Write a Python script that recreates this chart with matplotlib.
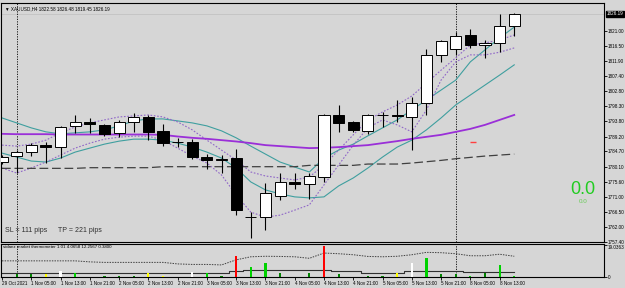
import numpy as np
import matplotlib
matplotlib.use("Agg")
from matplotlib import pyplot as plt
from matplotlib import font_manager
from matplotlib.transforms import blended_transform_factory

# XAUUSD H4 bars, 29 Oct 2021 20:00 .. 8 Nov 2021 17:00
opens = [1781.6, 1783.3, 1784.4, 1786.6, 1785.9, 1792.4, 1793.6, 1792.7, 1790.2, 1793.7,
         1795.2, 1790.9, 1787.6, 1787.6, 1783.1, 1782.2, 1782.6, 1764.8, 1764.9, 1771.4,
         1775.5, 1774.8, 1777.1, 1795.7, 1793.5, 1790.9, 1795.6, 1795.8, 1795.2, 1799.3,
         1813.8, 1815.6, 1819.8, 1816.8, 1817.3, 1822.58]
highs = [1783.5, 1785.1, 1787.3, 1787.6, 1792.4, 1795.7, 1794.7, 1793.0, 1794.2, 1796.2,
         1795.7, 1793.0, 1788.7, 1788.4, 1783.9, 1783.6, 1785.3, 1766.5, 1775.1, 1778.1,
         1778.1, 1778.2, 1796.0, 1798.7, 1794.0, 1796.0, 1796.7, 1800.2, 1801.1, 1815.5,
         1818.3, 1820.8, 1821.5, 1818.3, 1826.1, 1826.48]
lows = [1781.0, 1778.2, 1783.3, 1781.1, 1782.6, 1790.2, 1790.2, 1789.4, 1789.2, 1790.6,
        1788.1, 1786.3, 1786.1, 1782.3, 1779.3, 1778.1, 1765.5, 1758.5, 1761.0, 1770.0,
        1773.3, 1770.3, 1775.6, 1790.7, 1790.7, 1789.9, 1792.1, 1793.7, 1785.1, 1795.7,
        1811.6, 1813.8, 1815.8, 1812.9, 1814.8, 1819.45]
closes = [1783.1, 1784.4, 1786.6, 1785.9, 1792.2, 1793.5, 1793.1, 1790.0, 1793.7, 1795.0,
          1790.6, 1787.3, 1787.5, 1783.1, 1782.1, 1782.3, 1767.1, 1764.9, 1772.1, 1775.6,
          1774.9, 1777.3, 1795.7, 1793.2, 1791.2, 1795.7, 1795.8, 1795.3, 1799.2, 1813.8,
          1818.1, 1819.5, 1816.8, 1817.5, 1822.5, 1826.19]

ma_slow = [1790.0, 1789.9, 1789.9, 1789.9, 1789.8, 1789.8, 1789.8, 1789.8, 1789.8, 1789.8,
           1789.8, 1789.7, 1789.2, 1788.8, 1788.5, 1788.1, 1787.7, 1787.2, 1786.6, 1786.3,
           1786.0, 1785.7, 1785.8, 1786.0, 1786.3, 1786.6, 1787.2, 1787.8, 1788.5, 1789.1,
           1789.7, 1790.6, 1791.5, 1792.7, 1794.2, 1795.7]
ma_long = [1779.6, 1779.6, 1779.6, 1779.6, 1779.6, 1779.6, 1779.8, 1779.8, 1779.8, 1779.8,
           1779.8, 1780.1, 1780.1, 1780.1, 1780.1, 1780.1, 1780.1, 1780.1, 1780.1, 1780.1,
           1780.1, 1780.5, 1780.5, 1780.5, 1780.5, 1780.9, 1780.9, 1780.9, 1781.2, 1781.6,
           1782.0, 1782.5, 1782.9, 1783.3, 1783.6, 1783.9]
band_up = [1794.8, 1793.3, 1791.8, 1790.6, 1790.0, 1790.3, 1790.6, 1791.2, 1792.4, 1793.9,
           1794.5, 1794.5, 1793.9, 1793.3, 1792.4, 1790.9, 1788.8, 1786.3, 1783.9, 1781.5,
           1780.0, 1778.5, 1782.7, 1785.1, 1786.9, 1789.4, 1791.8, 1794.2, 1797.2, 1800.2,
           1803.2, 1806.2, 1811.7, 1815.3, 1818.9, 1822.2]
band_dn = [1784.2, 1783.0, 1781.8, 1781.5, 1782.7, 1784.5, 1785.7, 1786.9, 1787.8, 1788.4,
           1788.4, 1788.1, 1787.2, 1786.0, 1784.5, 1782.7, 1779.7, 1775.5, 1773.1, 1771.9,
           1771.0, 1770.7, 1771.0, 1774.3, 1776.7, 1779.7, 1783.0, 1786.0, 1788.1, 1791.2,
           1794.8, 1798.7, 1801.7, 1804.7, 1807.7, 1810.8]
env_up = [1786.6, 1786.3, 1786.9, 1788.1, 1790.3, 1792.1, 1793.3, 1794.2, 1795.1, 1795.4,
          1795.7, 1795.1, 1793.6, 1791.2, 1788.1, 1785.1, 1782.1, 1778.5, 1777.3, 1776.7,
          1776.1, 1777.0, 1780.6, 1785.1, 1789.7, 1794.2, 1796.6, 1798.7, 1801.4, 1805.3,
          1809.2, 1812.9, 1816.8, 1817.4, 1818.3, 1819.8]
env_dn = [1779.7, 1778.2, 1779.7, 1781.5, 1783.6, 1785.7, 1787.2, 1788.4, 1789.0, 1789.3,
          1789.3, 1788.1, 1785.7, 1783.3, 1781.2, 1777.6, 1771.6, 1766.4, 1764.9, 1765.5,
          1767.0, 1768.6, 1774.6, 1780.6, 1786.6, 1791.8, 1794.2, 1792.7, 1790.6, 1797.2,
          1806.2, 1811.7, 1813.8, 1813.8, 1814.6, 1815.9]

# market thermometer sub-window
thermo = [0, 1.6, 1.6, 1.6, 3.6, 2.6, 0, 0.8, 0.8, 0.7,
          2.2, 0.7, 0, 3.2, 2.6, 0.3, 12.1, 6.1, 8.1, 2.6,
          0, 2.6, 18.0, 1.8, 0, 0.7, 0.7, 2.2, 8.5, 11.1,
          1.6, 1.6, 0.3, 2.6, 7.1, 0.3]
thermo_col = ['dg', 'dg', 'dg', 'y', 'w', 'g', 'dg', 'dg', 'dg', 'dg',
              'y', 'y', 'dg', 'w', 'g', 'dg', 'r', 'g', 'g', 'dg',
              'dg', 'dg', 'r', 'dg', 'dg', 'dg', 'dg', 'y', 'w', 'g',
              'dg', 'dg', 'g', 'dg', 'g', 'g']
thermo_avg = [9.5, 9.5, 9.5, 9.5, 9.5, 9.5, 8.9, 8.6, 8.6, 8.6,
              8.6, 8.6, 7.7, 7.4, 7.4, 7.1, 10.1, 11.9, 12.2, 12.1,
              11.9, 11.0, 14.1, 13.7, 13.1, 12.1, 11.9, 12.2, 13.1, 14.5,
              14.3, 13.7, 12.5, 12.5, 13.4, 12.2]
thermo_low = [2.6, 2.6, 2.6, 2.6, 2.6, 2.6, 2.6, 2.6, 2.6, 2.6,
              2.6, 2.6, 2.6, 2.6, 2.6, 2.6, 3.8, 4.2, 4.2, 4.2,
              4.2, 4.2, 4.3, 3.6, 3.6, 2.6, 2.6, 2.6, 3.6, 3.6,
              3.6, 3.6, 3.2, 3.2, 3.2, 3.2]
thermo_max = 19.0363

price_ticks = [1821.00, 1816.50, 1811.90, 1807.40, 1802.80, 1798.30, 1793.80, 1789.20,
               1784.70, 1780.10, 1775.60, 1771.00, 1766.50, 1762.00, 1757.40]
date_labels = ['29 Oct 2021', '1 Nov 05:00', '1 Nov 13:00', '1 Nov 21:00', '2 Nov 05:00',
               '2 Nov 13:00', '2 Nov 21:00', '3 Nov 05:00', '3 Nov 13:00', '3 Nov 21:00',
               '4 Nov 05:00', '4 Nov 13:00', '4 Nov 21:00', '5 Nov 05:00', '5 Nov 13:00',
               '5 Nov 21:00', '8 Nov 05:00', '8 Nov 13:00']
week_starts = [1, 31]
sl_pips, tp_pips = 111, 221
signal_bar, signal_price = 32.2, 1787.5


def have_font(name):
    try:
        font_manager.findfont(name, fallback_to_default=False)
        return True
    except ValueError:
        return False


if have_font('Liberation Sans Narrow'):
    SMALL_FONT, SMALL = ['Liberation Sans Narrow', 'DejaVu Sans'], 3.9
else:
    SMALL_FONT, SMALL = ['Liberation Sans', 'DejaVu Sans'], 3.3

BG = '#d6d6d6'
plt.rcParams['font.family'] = SMALL_FONT
COLS = {'dg': '#008000', 'g': '#00d200', 'y': '#ffff00', 'w': '#ffffff', 'r': '#ff0000'}

W, H = 625, 288


def box(l, t, r, b):
    return [l / W, 1 - b / H, (r - l) / W, (b - t) / H]


fig = plt.figure(figsize=(W / 100, H / 100), dpi=100, facecolor=BG)
ax = fig.add_axes(box(1, 3, 604, 242), facecolor=BG)
sub = fig.add_axes(box(1, 244, 604, 277), facecolor=BG)

x = np.arange(len(opens))
o = np.array(opens); c = np.array(closes)
up = c >= o
ax.vlines(x, lows, highs, color='black', lw=0.8, zorder=3)
ax.bar(x, np.maximum(np.abs(c - o), 0.12), bottom=np.minimum(o, c), width=0.76,
       color=np.where(up, 'white', 'black'), edgecolor='black', linewidth=0.7, zorder=4)

ax.plot(x, band_up, color='#3f9f9f', lw=0.8, zorder=2)
ax.plot(x, band_dn, color='#3f9f9f', lw=0.8, zorder=2)
ax.plot(x, env_up, color='#9067c8', lw=0.8, ls=(0, (1.5, 1.5)), zorder=2)
ax.plot(x, env_dn, color='#9067c8', lw=0.8, ls=(0, (1.5, 1.5)), zorder=2)
ax.plot(x, ma_slow, color='#9a2fd8', lw=1.3, zorder=2)
ax.plot(x, ma_long, color='#404040', lw=0.9, ls=(0, (7, 3)), zorder=2)
ax.axhline(closes[-1], color='#c2c2c2', lw=0.6, zorder=1)
ax.plot([signal_bar], [signal_price], marker='_', color='#ff4040', ms=4, mew=1)

ax.set_xlim(-1 / 14.66, 603 / 14.66)
ax.set_ylim(1757.41, 1829.44)
ax.set_xticks([])
ax.yaxis.tick_right()
ax.set_yticks(price_ticks)
ax.set_yticklabels(['%.2f' % p for p in price_ticks])
ax.tick_params(axis='y', direction='out', length=2, width=0.6, labelsize=SMALL, pad=1)
tr = blended_transform_factory(ax.transAxes, ax.transData)
ax.text(1.005, closes[-1], '%.2f' % closes[-1], transform=tr, fontsize=SMALL, color='white',
        va='center', ha='left', bbox=dict(boxstyle='square,pad=0.15', fc='black', ec='black'))

for a in (ax, sub):
    for s in a.spines.values():
        s.set_color('black'); s.set_linewidth(0.8)
    for k in week_starts:
        a.axvline(k, color='black', lw=0.6, ls=(0, (1.5, 1.5)), zorder=1)

ax.text(0.006, 0.985, '\u25bc XAUUSD,H4 %.2f %.2f %.2f %.2f' % (opens[-1], highs[-1], lows[-1], closes[-1]),
        transform=ax.transAxes, fontsize=SMALL, va='top', ha='left',
        family=SMALL_FONT + ['DejaVu Sans'])
ax.text(0.007, 0.035, 'SL = %d pips' % sl_pips, transform=ax.transAxes, fontsize=5,
        color='#303030', va='bottom', family=['Liberation Sans', 'DejaVu Sans'])
ax.text(0.094, 0.035, 'TP = %d pips' % tp_pips, transform=ax.transAxes, fontsize=5,
        color='#303030', va='bottom', family=['Liberation Sans', 'DejaVu Sans'])
ax.text(0.965, 0.22, '0.0', transform=ax.transAxes, fontsize=13, color='#22cc22',
        ha='center', va='center', family=['Liberation Sans', 'DejaVu Sans'])
ax.text(0.965, 0.17, '0.0', transform=ax.transAxes, fontsize=4.5, color='#66cc55',
        ha='center', va='center', family=['Liberation Sans', 'DejaVu Sans'])

# sub window
sub.bar(x, thermo, width=0.15, color=[COLS[k] for k in thermo_col], zorder=3)
sub.plot(x, thermo_avg, color='#404040', lw=0.7, ls=(0, (1.5, 1.2)), zorder=2)
sub.plot(x, thermo_low, color='#303030', lw=0.8, drawstyle='steps-mid', zorder=2)
sub.set_xlim(ax.get_xlim())
sub.set_ylim(0, thermo_max * 1.02)
sub.yaxis.tick_right()
sub.set_yticks([0, thermo_max])
sub.set_yticklabels(['0', '%.4f' % thermo_max])
sub.get_yticklabels()[1].set_va('top')
sub.tick_params(axis='y', direction='out', length=2, width=0.6, labelsize=SMALL, pad=1)
sub.set_xticks(np.arange(0, 2 * len(date_labels), 2))
sub.set_xticklabels(date_labels, ha='left')
sub.tick_params(axis='x', direction='out', length=2, width=0.6, labelsize=SMALL, pad=1)
sub.text(0.003, 0.96, 'sidanz market thermometer 1.01 4.0658 12.2567 0.3800',
         transform=sub.transAxes, fontsize=SMALL * 0.95, va='top', ha='left')

fig.savefig('out.png', dpi=100, facecolor=BG)
